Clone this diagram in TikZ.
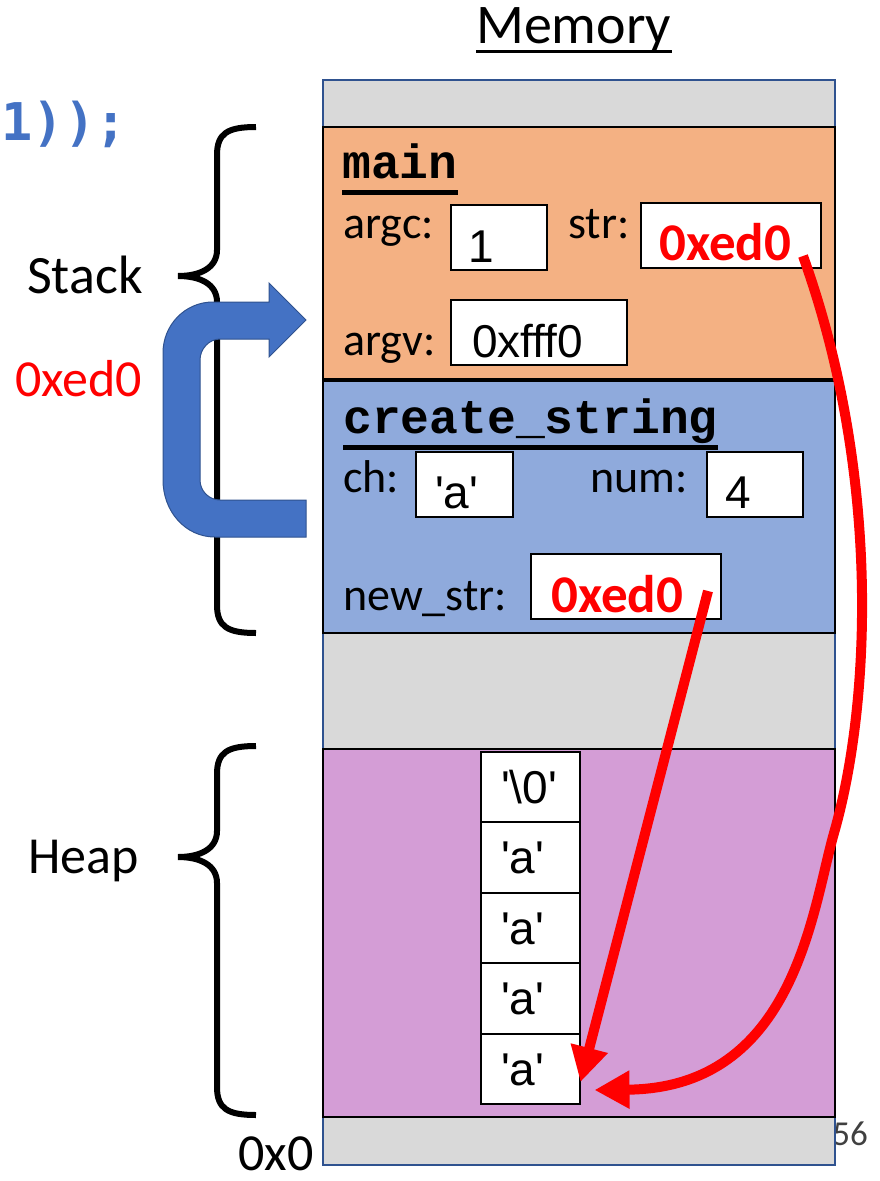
\documentclass[tikz,border=0pt]{standalone}
\usepackage{fontspec}
\setmainfont{Carlito}
\newfontfamily\valfont{Liberation Sans}
\newfontfamily\codefont{Liberation Mono}
\newfontfamily\srcfont{DejaVu Sans Mono}
\usetikzlibrary{arrows.meta}
\definecolor{memgrey}{HTML}{D9D9D9}
\definecolor{mainorange}{HTML}{F4B183}
\definecolor{callblue}{HTML}{8FAADC}
\definecolor{heappurple}{HTML}{D49DD6}
\definecolor{edgeblue}{HTML}{2F528F}
\definecolor{bendblue}{HTML}{4472C4}
\definecolor{slidegrey}{HTML}{404040}
\newcommand{\fsz}[1]{\fontsize{#1}{#1}\selectfont}
\newcommand{\chq}[1]{\textquotesingle#1\textquotesingle}
\tikzset{
  memframe/.style={draw=black,line width=2pt},
  valbox/.style={draw=black,fill=white,line width=1.6pt,inner sep=0pt,minimum height=65pt},
  heapcell/.style={draw=black,fill=white,line width=2pt,inner sep=0pt,
                   minimum width=99pt,minimum height=70.5pt},
  lbl/.style={anchor=base west,inner sep=0pt,font=\fsz{46}},
  valtxt/.style={anchor=base west,inner sep=0pt,font=\valfont\fsz{46}},
  ptrval/.style={anchor=base west,inner sep=0pt,text=red,font=\bfseries\fsz{53}},
  ttl/.style={anchor=base west,inner sep=0pt,font=\codefont\bfseries\fsz{48}},
  sidetxt/.style={anchor=base west,inner sep=0pt,font=\fsz{52}},
  bracepen/.style={line width=6pt},
  ptr/.style={red,line width=10pt,-{Triangle[length=35pt,width=36pt]}},
}

\begin{document}
\begin{tikzpicture}[x=1pt,y=-1pt]
  \useasboundingbox (0,0) rectangle (879,1181);
  % slide number, half under the memory column
  \node[anchor=base east,inner sep=0pt,text=slidegrey,font=\fsz{35}] (pagenum) at (868,1145) {56};

  % memory column
  \draw[edgeblue,line width=2pt,fill=memgrey] (323,80) rectangle (835,1165);
  \draw[memframe,fill=mainorange] (323,127) rectangle (835,379);
  \draw[memframe,fill=callblue] (323,381) rectangle (835,633);
  \draw[memframe,fill=heappurple] (323,749) rectangle (835,1117);
  \node[sidetxt,font=\fsz{56}] (memttl) at (476,43) {Memory};
  \draw[line width=3pt] ([yshift=-8pt]memttl.base west) -- ([yshift=-8pt]memttl.base east);

  % frame of main
  \node[ttl] (mainttl) at (342,178) {main};
  \draw[line width=5pt] ([yshift=-14pt]mainttl.base west) -- ([yshift=-14pt]mainttl.base east);
  \node[lbl] (argclbl) at (343,238) {argc:};
  \node[valbox,minimum width=96pt] (argcbox) at (499,237.5) {};
  \node[valtxt] (argcval) at (468,262) {1};
  \node[lbl] (strlbl) at (568,238) {str:};
  \node[valbox,minimum width=180pt] (strbox) at (731,235.5) {};
  \node[ptrval] (strval) at (659,260) {0xed0};
  \node[lbl] (argvlbl) at (343,355) {argv:};
  \node[valbox,minimum width=176pt] (argvbox) at (539,332.5) {};
  \node[valtxt] (argvval) at (472,357) {0xfff0};

  % frame of create_string
  \node[ttl] (callttl) at (343,433) {create\_string};
  \draw[line width=5pt] ([yshift=-14pt]callttl.base west) -- ([yshift=-14pt]callttl.base east);
  \node[lbl] (chlbl) at (343,492) {ch:};
  \node[valbox,minimum width=97pt] (chbox) at (464.5,484.5) {};
  \node[valtxt] (chval) at (435,508) {\chq{a}};
  \node[lbl] (numlbl) at (590,492) {num:};
  \node[valbox,minimum width=96pt] (numbox) at (755,484.5) {};
  \node[valtxt] (numval) at (725,508) {4};
  \node[lbl] (newlbl) at (343,610) {new\_str:};
  \node[valbox,minimum width=190pt] (newbox) at (626,586.5) {};
  \node[ptrval] (newval) at (551,612) {0xed0};

  % heap string
  \foreach \i/\cv in {1/\textbackslash 0,2/a,3/a,4/a,5/a} {
    \node[heapcell] (cell\i) at (530,{716.5+70.5*\i}) {};
    \node[valtxt] (celltxt\i) at (501,{732.5+70.5*\i}) {\chq{\cv}};
  }

  % braces
  \draw[bracepen] (256,127) .. controls (228,127) and (217,133) .. (217,155)
    -- (217,250) .. controls (217,268) and (200,276) .. (178,276)
    .. controls (200,276) and (217,284) .. (217,302)
    -- (217,605) .. controls (217,627) and (228,633) .. (256,633);
  \draw[bracepen] (256,746) .. controls (228,746) and (217,752) .. (217,774)
    -- (217,831) .. controls (217,849) and (200,857) .. (178,857)
    .. controls (200,857) and (217,865) .. (217,883)
    -- (217,1087) .. controls (217,1109) and (228,1115) .. (256,1115);

  % return arrow
  \draw[edgeblue,line width=1pt,fill=bendblue] (306,500) -- (220,500)
    .. controls (209,500) and (200,491) .. (200,480) -- (200,360)
    .. controls (200,349) and (209,339) .. (220,339) -- (269,339)
    -- (269,357) -- (306,320) -- (269,283) -- (269,302) -- (213,302)
    .. controls (185,302) and (163,325) .. (163,353) -- (163,480)
    .. controls (163,511) and (185,537) .. (215,537) -- (306,537) -- cycle;

  % side labels
  \node[sidetxt,font=\fsz{54}] (stacklbl) at (27,293) {Stack};
  \node[sidetxt] (heaplbl) at (28,873) {Heap};
  \node[sidetxt,text=red] (addrlbl) at (15,396) {0xed0};
  \node[sidetxt] (zerolbl) at (238,1170) {0x0};
  \node[anchor=base east,inner sep=0pt,text=bendblue,font=\srcfont\bfseries\fsz{52}]
    (codetail) at (127,140) {1));};

  % pointers
  \coordinate (strsrc) at (803,256);
  \coordinate (newsrc) at (708,591);
  \draw[ptr] (newsrc) -- ([yshift=-13pt]cell5.east);
  \draw[ptr] (strsrc) .. controls (880,470) and (872,700) .. (834,833)
    .. controls (812,910) and (795,1088) .. ([xshift=14pt,yshift=-21pt]cell5.east);
\end{tikzpicture}
\end{document}
